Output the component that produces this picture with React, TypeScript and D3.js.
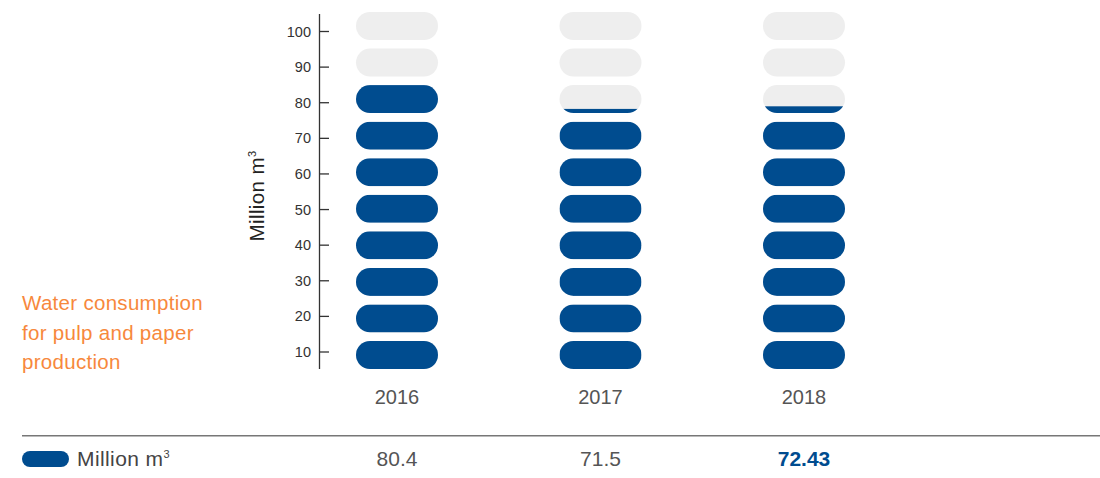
import React from "react";
import * as d3 from "d3";

const years = ["2016", "2017", "2018"];
const values = [80.4, 71.5, 72.43];
const valueLabels = ["80.4", "71.5", "72.43"];
const tickValues = [10, 20, 30, 40, 50, 60, 70, 80, 90, 100];
const unitPerPill = 10;
const pillCount = 10;
const titleLines = ["Water consumption", "for pulp and paper", "production"];

const BLUE = "#004c8f";
const GRAY = "#eeeeee";
const ORANGE = "#f7883c";
const FONT = "'Liberation Sans', Arial, Helvetica, sans-serif";

export default function App() {
  const W = 1100;
  const H = 478;
  const x = d3.scalePoint<string>().domain(years).range([397, 804]);
  const yTick = d3.scaleLinear().domain([10, 100]).range([352, 31.5]);
  const slot = d3.scaleLinear().domain([0, pillCount - 1]).range([355, 26]);
  const pillW = 82;
  const pillH = 28;
  const axisX = 319.5;

  return (
    <svg width={W} height={H} style={{ position: "absolute", left: 0, top: 0 }} fontFamily={FONT}>
      <defs>
        {years.map((yr, ci) =>
          d3.range(pillCount).map((i) => (
            <clipPath id={`clip-${ci}-${i}`} key={`${ci}-${i}`}>
              <rect
                x={(x(yr) as number) - pillW / 2}
                y={slot(i) - pillH / 2}
                width={pillW}
                height={pillH}
                rx={pillH / 2}
              />
            </clipPath>
          ))
        )}
      </defs>

      {/* left title */}
      <text fill={ORANGE} fontSize={20.5} letterSpacing={0.3}>
        {titleLines.map((l, i) => (
          <tspan key={i} x={22} y={310 + i * 29.5}>
            {l}
          </tspan>
        ))}
      </text>

      {/* y axis */}
      <line x1={axisX} x2={axisX} y1={14} y2={369} stroke="#333" strokeWidth={1.3} />
      {tickValues.map((t) => (
        <g key={t}>
          <line x1={axisX} x2={axisX + 9.5} y1={yTick(t)} y2={yTick(t)} stroke="#333" strokeWidth={1.3} />
          <text x={311} y={yTick(t)} dy="0.35em" textAnchor="end" fontSize={14.5} fill="#333">
            {t}
          </text>
        </g>
      ))}
      <text
        transform="translate(264,196) rotate(-90)"
        textAnchor="middle"
        fontSize={20.5}
        letterSpacing={0.4}
        fill="#222"
      >
        Million m<tspan fontSize={11} dy={-8}>3</tspan>
      </text>

      {/* pills */}
      {years.map((yr, ci) => {
        const cx = x(yr) as number;
        return (
          <g key={yr}>
            {d3.range(pillCount).map((i) => {
              const frac = Math.max(0, Math.min(1, (values[ci] - i * unitPerPill) / unitPerPill));
              const shown = frac < 0.05 ? 0 : frac;
              const top = slot(i) - pillH / 2;
              return (
                <g key={i}>
                  <rect x={cx - pillW / 2} y={top} width={pillW} height={pillH} rx={pillH / 2} fill={GRAY} />
                  {shown > 0 && (
                    <rect
                      x={cx - pillW / 2}
                      y={top + pillH * (1 - shown)}
                      width={pillW}
                      height={pillH * shown}
                      fill={BLUE}
                      clipPath={`url(#clip-${ci}-${i})`}
                    />
                  )}
                </g>
              );
            })}
            <text x={cx} y={404} textAnchor="middle" fontSize={20} fill="#555">
              {yr}
            </text>
          </g>
        );
      })}

      {/* divider */}
      <line x1={22} x2={1100} y1={435.7} y2={435.7} stroke="#777" strokeWidth={1.5} />

      {/* legend row */}
      <rect x={22} y={451} width={47} height={16} rx={8} fill={BLUE} />
      <text x={77} y={466} fontSize={21} letterSpacing={0.4} fill="#444">
        Million m<tspan fontSize={11} dy={-8}>3</tspan>
      </text>
      {years.map((yr, ci) => (
        <text
          key={yr}
          x={x(yr) as number}
          y={466}
          textAnchor="middle"
          fontSize={21}
          fill={ci === years.length - 1 ? BLUE : "#555"}
          fontWeight={ci === years.length - 1 ? "bold" : "normal"}
        >
          {valueLabels[ci]}
        </text>
      ))}
    </svg>
  );
}
